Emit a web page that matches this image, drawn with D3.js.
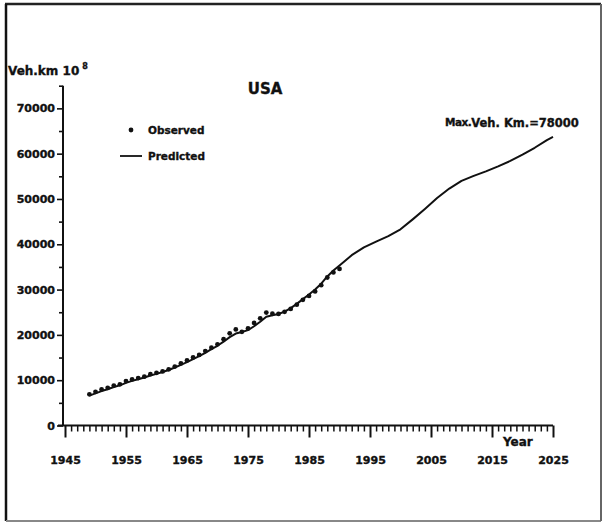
<!DOCTYPE html>
<html>
<head>
<meta charset="utf-8">
<script src="https://cdn.jsdelivr.net/npm/d3@7"></script>
<style>
  html, body { margin: 0; padding: 0; background: #fff; }
  svg { display: block; }
  text { font-family: "DejaVu Sans", sans-serif; font-weight: bold; fill: #111; stroke: #111; stroke-width: 0.35px; }
</style>
</head>
<body>
<svg id="chart" width="604" height="524"></svg>
<script>
// Observed vehicle-km (10^8), USA
const obsYears = [1949,1950,1951,1952,1953,1954,1955,1956,1957,1958,1959,1960,1961,1962,1963,1964,1965,1966,1967,1968,1969,1970,1971,1972,1973,1974,1975,1976,1977,1978,1979,1980,1981,1982,1983,1984,1985,1986,1987,1988,1989,1990];
const obsValues = [6820,7370,7900,8250,8750,9030,9750,10100,10410,10700,11260,11570,11870,12340,12950,13630,14290,14960,15500,16350,17090,17860,18970,20270,21130,20610,21370,22560,23600,24860,24600,24570,25020,25660,26600,27680,28540,29520,30910,32600,33720,34500];

// Model prediction, extended to 2025
const predYears = [1949,1950,1951,1952,1953,1954,1955,1956,1957,1958,1959,1960,1961,1962,1963,1964,1965,1966,1967,1968,1969,1970,1971,1972,1973,1974,1975,1976,1977,1978,1979,1980,1981,1982,1983,1984,1985,1986,1987,1988,1989,1990,1992,1994,1996,1998,2000,2002,2004,2006,2008,2010,2012,2014,2016,2018,2020,2022,2024,2025];
const predValues = [6600,7100,7600,8000,8500,8850,9400,9850,10200,10600,11050,11400,11800,12250,12800,13400,14000,14650,15300,16050,16850,17600,18500,19500,20300,20650,21050,21900,22900,24000,24350,24600,25150,25900,26850,27900,28900,30000,31300,32900,34200,35300,37600,39300,40600,41800,43300,45500,47800,50200,52300,54000,55100,56100,57200,58400,59800,61300,63000,63700];

const yMajorTicks = [0,10000,20000,30000,40000,50000,60000,70000];
const yMinorTicks = [5000,15000,25000,35000,45000,55000,65000,75000];
const xMajorTicks = [1945,1955,1965,1975,1985,1995,2005,2015,2025];

const svg = d3.select("#chart");

// page frame
svg.append("line").attr("x1",5).attr("y1",4).attr("x2",601).attr("y2",4).attr("stroke","#222").attr("stroke-width",2.5);
svg.append("line").attr("x1",6).attr("y1",4).attr("x2",6).attr("y2",521).attr("stroke","#111").attr("stroke-width",2.5);
svg.append("line").attr("x1",6).attr("y1",521).attr("x2",601).attr("y2",521).attr("stroke","#888").attr("stroke-width",2);
svg.append("line").attr("x1",601).attr("y1",4).attr("x2",601).attr("y2",521).attr("stroke","#666").attr("stroke-width",2);

const x = d3.scaleLinear().domain([1945, 2025]).range([65, 553]);
const y = d3.scaleLinear().domain([0, 75000]).range([425.5, 85.7]);
const axisX0 = 63;

// y axis: minor ticks, then major ticks with labels
const gyMinor = svg.append("g").attr("transform", `translate(${axisX0},0)`)
  .call(d3.axisLeft(y).tickValues(yMinorTicks).tickSize(4).tickFormat(""));
const gy = svg.append("g").attr("transform", `translate(${axisX0},0)`)
  .call(d3.axisLeft(y).tickValues(yMajorTicks).tickSize(6).tickPadding(2).tickFormat(d => d));
[gyMinor, gy].forEach(g => {
  g.select(".domain").remove();
  g.selectAll(".tick line").attr("stroke","#111").attr("stroke-width",1.6);
});
gy.selectAll(".tick text").attr("font-size", 11).attr("font-family","DejaVu Sans").attr("font-weight","bold").attr("fill","#111");
svg.append("line").attr("x1",axisX0).attr("x2",axisX0).attr("y1",y(75000)).attr("y2",y(0))
  .attr("stroke","#111").attr("stroke-width",2);

// x axis: yearly minor ticks and decade major ticks
const minorYears = d3.range(1945, 2026).filter(v => (v - 1945) % 10 !== 0);
const gxMinor = svg.append("g").attr("transform", `translate(0,${y(0)})`)
  .call(d3.axisBottom(x).tickValues(minorYears).tickSize(6).tickFormat(""));
const gx = svg.append("g").attr("transform", `translate(0,${y(0)})`)
  .call(d3.axisBottom(x).tickValues(xMajorTicks).tickSize(12).tickPadding(19).tickFormat(d3.format("d")));
[gxMinor, gx].forEach(g => {
  g.select(".domain").remove();
  g.selectAll(".tick line").attr("stroke","#111").attr("stroke-width",1.5);
});
gx.selectAll(".tick line").attr("stroke-width",2);
gx.selectAll(".tick text").attr("font-size", 11).attr("font-family","DejaVu Sans").attr("font-weight","bold").attr("fill","#111");
svg.append("line").attr("x1",axisX0 - 5).attr("x2",x(2025)).attr("y1",y(0)).attr("y2",y(0))
  .attr("stroke","#111").attr("stroke-width",2);

// predicted curve
const line = d3.line().x(d => x(d[0])).y(d => y(d[1]));
svg.append("path")
  .datum(predYears.map((yr, i) => [yr, predValues[i]]))
  .attr("d", line).attr("fill","none").attr("stroke","#111").attr("stroke-width",2)
  .attr("stroke-linejoin","round");

// observed points
svg.append("g").selectAll("circle")
  .data(obsYears.map((yr, i) => [yr, obsValues[i]]))
  .join("circle")
  .attr("cx", d => x(d[0])).attr("cy", d => y(d[1]) - 0.3)
  .attr("r", 2.4).attr("fill", "#111");

// titles and labels
svg.append("text").attr("x", 265).attr("y", 94).attr("text-anchor","middle").attr("font-size", 15).text("USA");
const yl = svg.append("text").attr("x", 8).attr("y", 75).attr("font-size", 12);
yl.append("tspan").text("Veh.km 10");
yl.append("tspan").attr("dx", 3).attr("dy", -6).attr("font-size", 8).text("8");

svg.append("text").attr("x", 503).attr("y", 446).attr("font-size", 12).text("Year");

const ann = svg.append("text").attr("x", 445).attr("y", 127).attr("font-size", 11.5);
ann.append("tspan").attr("dy", -1).attr("font-size", 10.5).attr("letter-spacing", -0.5).text("Max.");
ann.append("tspan").attr("dy", 1).text("Veh. Km.=78000");

// legend
svg.append("circle").attr("cx", 131).attr("cy", 130).attr("r", 2.4).attr("fill","#111");
svg.append("text").attr("x", 148).attr("y", 134).attr("font-size", 10.5).text("Observed");
svg.append("line").attr("x1", 120).attr("x2", 142).attr("y1", 156).attr("y2", 156).attr("stroke","#111").attr("stroke-width",1.8);
svg.append("text").attr("x", 148).attr("y", 160).attr("font-size", 10.5).text("Predicted");
</script>
</body>
</html>
